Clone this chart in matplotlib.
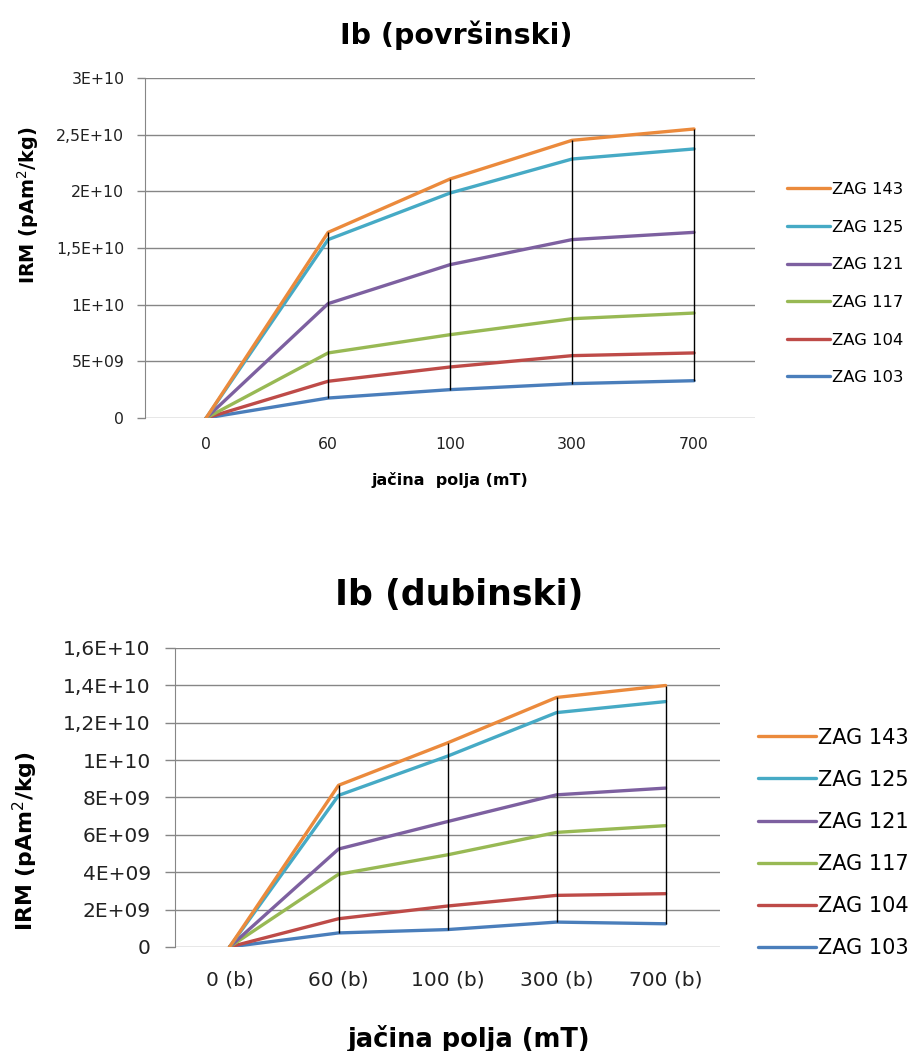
import numpy as np
import matplotlib
matplotlib.use("Agg")
import matplotlib.pyplot as plt

# podaci ocitani sa slike
serije = ["ZAG 103", "ZAG 104", "ZAG 117", "ZAG 121", "ZAG 125", "ZAG 143"]
boje = ["#4A7EBB", "#BE4B48", "#98B954", "#7D60A0", "#46AAC5", "#EB8A3C"]

polja_pov = ["0", "60", "100", "300", "700"]
pov_103 = [0, 1.76e9, 2.50e9, 3.03e9, 3.29e9]
pov_104 = [0, 3.24e9, 4.50e9, 5.50e9, 5.74e9]
pov_117 = [0, 5.74e9, 7.35e9, 8.76e9, 9.26e9]
pov_121 = [0, 1.009e10, 1.353e10, 1.574e10, 1.638e10]
pov_125 = [0, 1.574e10, 1.985e10, 2.285e10, 2.374e10]
pov_143 = [0, 1.638e10, 2.109e10, 2.450e10, 2.550e10]
pov_yticks = [0, 5e9, 1e10, 1.5e10, 2e10, 2.5e10, 3e10]
pov_ylabels = ["0", "5E+09", "1E+10", "1,5E+10", "2E+10", "2,5E+10", "3E+10"]

polja_dub = ["0 (b)", "60 (b)", "100 (b)", "300 (b)", "700 (b)"]
dub_103 = [0, 7.5e8, 9.3e8, 1.33e9, 1.24e9]
dub_104 = [0, 1.51e9, 2.19e9, 2.76e9, 2.85e9]
dub_117 = [0, 3.89e9, 4.93e9, 6.13e9, 6.49e9]
dub_121 = [0, 5.24e9, 6.71e9, 8.14e9, 8.50e9]
dub_125 = [0, 8.11e9, 1.021e10, 1.254e10, 1.313e10]
dub_143 = [0, 8.65e9, 1.092e10, 1.335e10, 1.399e10]
dub_yticks = [0, 2e9, 4e9, 6e9, 8e9, 1e10, 1.2e10, 1.4e10, 1.6e10]
dub_ylabels = ["0", "2E+09", "4E+09", "6E+09", "8E+09", "1E+10",
               "1,2E+10", "1,4E+10", "1,6E+10"]

plt.rcParams["font.family"] = "DejaVu Sans"


def nacrtaj(ax, kategorije, podaci, yticks, ylabels, tick_size, tick_len,
            tick_pad, xpad, leg_size, leg_pos, leg_spacing, leg_len):
    x = np.arange(len(kategorije))
    linije = []
    for ime, boja, y in zip(serije, boje, podaci):
        (l,) = ax.plot(x, y, color=boja, lw=2.4, label=ime,
                       solid_capstyle="round", zorder=3)
        linije.append(l)
    # high-low linije
    arr = np.array(podaci)
    ax.vlines(x[1:], arr.min(axis=0)[1:], arr.max(axis=0)[1:],
              color="black", lw=1.0, zorder=4)

    ax.set_xlim(-0.5, len(kategorije) - 0.5)
    ax.set_ylim(yticks[0], yticks[-1])
    ax.set_yticks(yticks)
    ax.set_yticklabels(ylabels, fontsize=tick_size, color="#222222")
    ax.set_xticks(x)
    ax.set_xticklabels(kategorije, fontsize=tick_size, color="#222222")
    ax.tick_params(axis="x", length=0, pad=xpad)
    ax.tick_params(axis="y", length=tick_len, color="#868686", width=1,
                   pad=tick_pad)
    ax.grid(axis="y", color="#868686", lw=1.0)
    ax.set_axisbelow(True)
    for s in ["top", "right", "bottom"]:
        ax.spines[s].set_visible(False)
    ax.spines["left"].set_color("#868686")

    ax.legend(linije[::-1], serije[::-1], loc="center left",
              bbox_to_anchor=leg_pos, frameon=False, borderaxespad=0,
              borderpad=0, labelspacing=leg_spacing, handlelength=leg_len,
              handletextpad=0.1, prop={"size": leg_size})


fig = plt.figure(figsize=(9.13, 10.51), dpi=100)

ax1 = fig.add_axes([0.159, 0.6023, 0.668, 0.3235])
nacrtaj(ax1, polja_pov,
        [pov_103, pov_104, pov_117, pov_121, pov_125, pov_143],
        pov_yticks, pov_ylabels, 11.3, 6, 9, 14,
        11.8, (1.052, 0.395), 1.38, 2.65)
ax1.set_ylabel("IRM (pAm$^2$/kg)", fontsize=13.9, fontweight="bold")
ax1.yaxis.set_label_coords(-0.171, 0.626)
ax1.set_xlabel("jačina  polja (mT)", fontsize=11.5, fontweight="bold")
ax1.xaxis.set_label_coords(0.5, -0.16)
fig.text(0.5, 1 - 35 / 1051, "Ib (površinski)", ha="center", va="center",
         fontsize=20.5, fontweight="bold")

ax2 = fig.add_axes([0.1917, 0.0990, 0.597, 0.2845])
nacrtaj(ax2, polja_dub,
        [dub_103, dub_104, dub_117, dub_121, dub_125, dub_143],
        dub_yticks, dub_ylabels, 14.5, 7.5, 10, 17,
        15, (1.07, 0.348), 1.06, 2.75)
ax2.set_ylabel("IRM (pAm$^2$/kg)", fontsize=15.8, fontweight="bold")
ax2.yaxis.set_label_coords(-0.248, 0.355)
ax2.set_xlabel("jačina polja (mT)", fontsize=18.5, fontweight="bold")
ax2.xaxis.set_label_coords(0.54, -0.26)
fig.text(0.503, 1 - 595 / 1051, "Ib (dubinski)", ha="center", va="center",
         fontsize=25, fontweight="bold")

fig.savefig("out.png", dpi=100)
